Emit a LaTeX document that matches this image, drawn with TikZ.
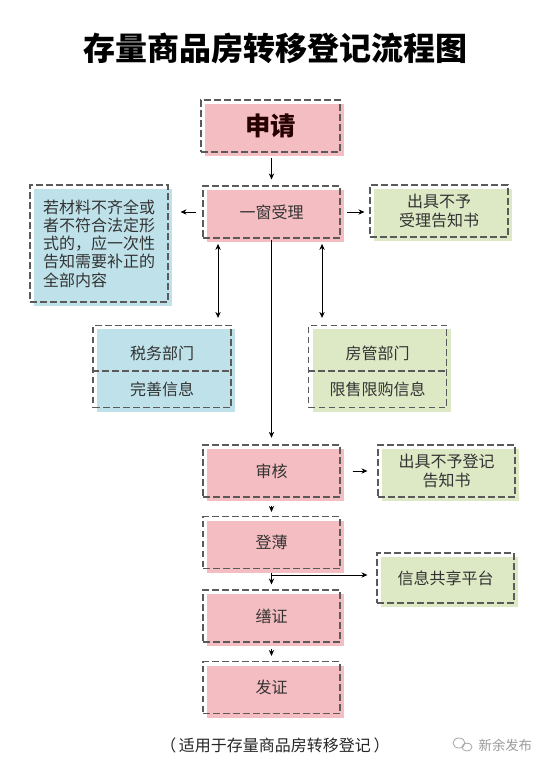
\documentclass[tikz,border=0pt]{standalone}
\usepackage{fontspec}
\setmainfont{Noto Sans CJK SC}
\newfontfamily\titlefont{Noto Sans CJK SC Black}
\usetikzlibrary{shadows,arrows.meta}
\definecolor{pinkf}{HTML}{F4BDC1}
\definecolor{bluef}{HTML}{BFE2EA}
\definecolor{greenf}{HTML}{DDE8C5}
\definecolor{dashc}{HTML}{5A5A5A}
\definecolor{txt}{HTML}{333333}
\begin{document}
\begin{tikzpicture}[x=0.75pt,y=-0.75pt,
  box/.style={draw=dashc, line width=0.85pt, dash pattern=on 5pt off 2.5pt,
    inner sep=0pt, text=txt, font=\fontsize{12}{13.7}\selectfont, align=center},
  pinkbox/.style={box, general shadow={fill=pinkf, shadow xshift=3pt, shadow yshift=-3pt},
    minimum width=102.75pt, minimum height=39pt},
  bluebox/.style={box, general shadow={fill=bluef, shadow xshift=3pt, shadow yshift=-3pt}},
  greenbox/.style={box, general shadow={fill=greenf, shadow xshift=3pt, shadow yshift=-3pt}},
  divider/.style={draw=dashc, line width=0.85pt, dash pattern=on 5pt off 2.5pt},
  lbl/.style={text=txt, font=\fontsize{12}{13.7}\selectfont, inner sep=0pt},
  arr/.style={-{Stealth[length=4.5pt,width=4pt]}, line width=0.6pt, black},
  darr/.style={{Stealth[length=4.5pt,width=4pt]}-{Stealth[length=4.5pt,width=4pt]}, line width=0.6pt, black},
]
\fill[white] (0,0) rectangle (550,778);
\useasboundingbox (0,0) rectangle (550,778);

% title
\node[font=\fontsize{24}{28}\selectfont\titlefont, text=black] (title) at (275,48) {存量商品房转移登记流程图};

% main column
\node[pinkbox, minimum width=104.25pt, font=\fontsize{19}{22}\selectfont\bfseries, text=black!85!red] (apply) at (270.5,126) {申请};
\node[pinkbox] (accept) at (271.5,212) {一窗受理};
\node[pinkbox] (review) at (271.5,471) {审核};
\node[pinkbox] (register) at (271.5,542.5) {登薄};
\node[pinkbox] (cert) at (271.5,616) {缮证};
\node[pinkbox] (issue) at (271.5,687.5) {发证};

% side boxes
\node[bluebox, minimum width=103.5pt, minimum height=87.75pt, align=left] (supp) at (99,243.5)
  {若材料不齐全或\\者不符合法定形\\式的，应一次性\\告知需要补正的\\全部内容};
\node[greenbox, minimum width=103.5pt, minimum height=39pt] (notice1) at (439,211) {出具不予\\受理告知书};
\node[greenbox, minimum width=102.75pt, minimum height=39pt] (notice2) at (446.5,471) {出具不予登记\\告知书};
\node[greenbox, minimum width=102.75pt, minimum height=37.5pt] (share) at (445.5,578) {信息共享平台};

% department boxes
\node[bluebox, minimum width=103.5pt, minimum height=62pt] (tax) at (162,366.5) {};
\draw[divider] (tax.west |- 0,371) -- (tax.east |- 0,371);
\node[lbl] (taxa) at (162,353) {税务部门};
\node[lbl] (taxb) at (162,389) {完善信息};

\node[greenbox, minimum width=103.5pt, minimum height=62pt] (house) at (377.5,366.5) {};
\draw[divider] (house.west |- 0,371) -- (house.east |- 0,371);
\node[lbl] (housea) at (377.5,353) {房管部门};
\node[lbl] (houseb) at (377.5,389) {限售限购信息};

% connectors
\draw[arr, shorten <=4pt, shorten >=4.5pt] (apply.south -| accept) -- (accept);
\draw[arr, shorten <=4.5pt, shorten >=9pt] (accept.west) -- (accept.west -| supp.east);
\draw[arr, shorten <=5pt, shorten >=3.75pt] (accept.east) -- (accept.east -| notice1.west);
\draw[darr, shorten <=4pt, shorten >=5pt] ([xshift=-40.1pt]accept.south) -- ([xshift=-40.1pt]accept.south |- tax.north);
\draw[darr, shorten <=4pt, shorten >=5pt] ([xshift=37.9pt]accept.south) -- ([xshift=37.9pt]accept.south |- house.north);
\draw[arr, shorten <=1pt, shorten >=5pt] (accept) -- (review);
\draw[arr, shorten <=9pt, shorten >=7.5pt] (review.east) -- (review.east -| notice2.west);
\draw[arr, shorten <=6pt, shorten >=3pt] (review) -- (register);
\draw[arr, shorten <=3pt, shorten >=3.75pt] (register) -- (cert);
\coordinate (j) at (271.5,575);
\draw[arr, shorten >=6.75pt] (j) -- (j -| share.west);
\draw[arr, shorten <=4.5pt, shorten >=3.75pt] (cert) -- (issue);

% footer
\node[font=\fontsize{12}{14}\selectfont, text=black!85] (foot) at (275,745) {（\,适用于存量商品房转移登记\,）};
\draw[black!35, line width=0.6pt] (459,743) ellipse [x radius=6, y radius=5];
\draw[black!35, line width=0.6pt] (467,747) ellipse [x radius=5, y radius=4];
\node[font=\fontsize{10}{12}\selectfont, text=black!40, anchor=west] (mark) at (474,745) {新余发布};
\end{tikzpicture}
\end{document}
